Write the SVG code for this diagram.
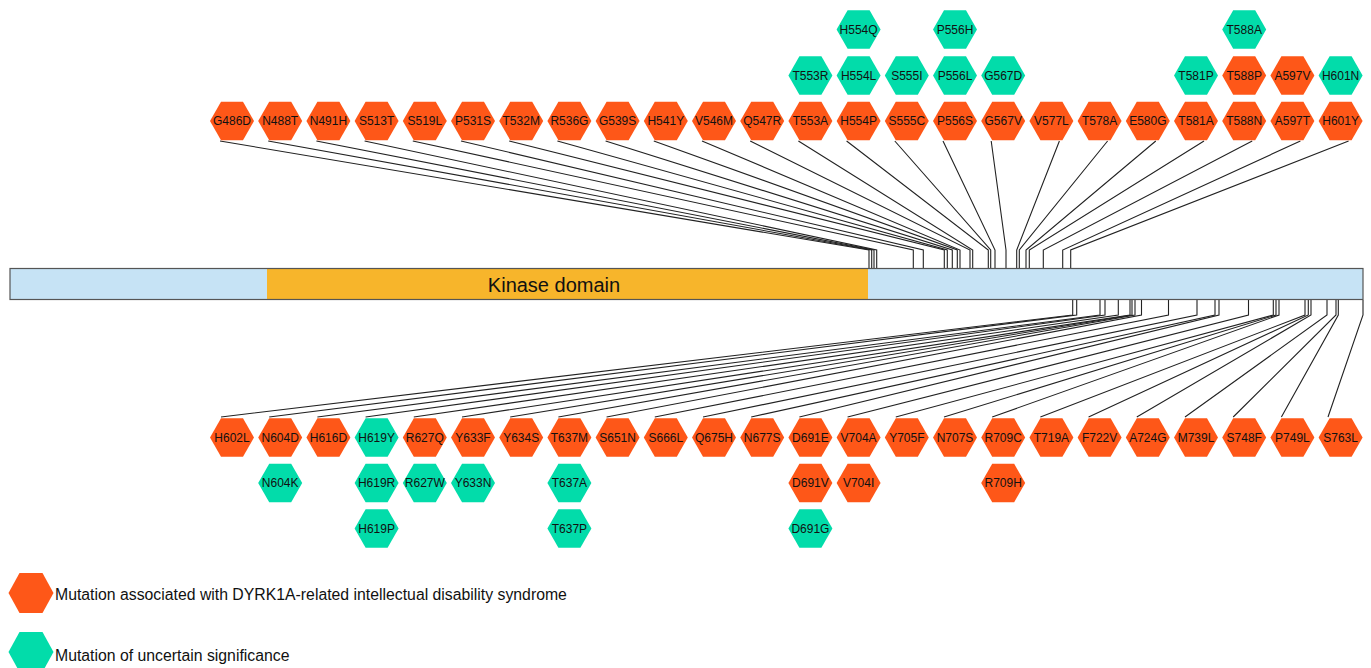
<svg xmlns="http://www.w3.org/2000/svg" xmlns:xlink="http://www.w3.org/1999/xlink" width="1371" height="668" viewBox="0 0 1371 668">
<style>
.o{fill:#FE5718}
.t{fill:#02DCAA}
.lbl{font-family:"Liberation Sans",Arial,sans-serif;font-size:12px;fill:#111;text-anchor:middle}
.leg{font-family:"Liberation Sans",Arial,sans-serif;font-size:15.8px;fill:#111}
.c{fill:none;stroke:#222;stroke-width:1.1}
</style>
<defs>
<polygon id="hex" points="-22,0 -11,-19.2 11,-19.2 22,0 11,19.2 -11,19.2"/>
<polygon id="lhex" points="-22.5,0 -11.5,-20 11.5,-20 22.5,0 11.5,20 -11.5,20"/>
</defs>
<rect width="1371" height="668" fill="#fff"/>
<g id="connectors">
<polyline class="c" points="220,141 869,250 869,268"/>
<polyline class="c" points="268.2,141 871.7,250 871.7,268"/>
<polyline class="c" points="316.4,141 874,250 874,268"/>
<polyline class="c" points="364.6,141 876.7,250 876.7,268"/>
<polyline class="c" points="412.8,141 913.3,250 913.3,268"/>
<polyline class="c" points="461,141 923.3,250 923.3,268"/>
<polyline class="c" points="509.2,141 944.3,250 944.3,268"/>
<polyline class="c" points="557.4,141 947.3,250 947.3,268"/>
<polyline class="c" points="605.6,141 952.3,250 952.3,268"/>
<polyline class="c" points="653.8,141 957.3,250 957.3,268"/>
<polyline class="c" points="702,141 960,250 960,268"/>
<polyline class="c" points="750.2,141 970,250 970,268"/>
<polyline class="c" points="798.4,141 972.7,250 972.7,268"/>
<polyline class="c" points="846.6,141 988.3,250 988.3,268"/>
<polyline class="c" points="894.8,141 990.7,250 990.7,268"/>
<polyline class="c" points="943,141 995,250 995,268"/>
<polyline class="c" points="991.2,141 1006,250 1006,268"/>
<polyline class="c" points="1059.4,141 1016.7,250 1016.7,268"/>
<polyline class="c" points="1107.6,141 1019.3,250 1019.3,268"/>
<polyline class="c" points="1155.8,141 1026,250 1026,268"/>
<polyline class="c" points="1204,141 1029.3,250 1029.3,268"/>
<polyline class="c" points="1252.2,141 1043.3,250 1043.3,268"/>
<polyline class="c" points="1300.4,141 1062.7,250 1062.7,268"/>
<polyline class="c" points="1348.6,141 1070.7,250 1070.7,268"/>
<polyline class="c" points="221,417 1072.7,315 1072.7,300"/>
<polyline class="c" points="269.2,417 1076.7,315 1076.7,300"/>
<polyline class="c" points="317.4,417 1100,315 1100,300"/>
<polyline class="c" points="365.6,417 1105,315 1105,300"/>
<polyline class="c" points="413.8,417 1118.3,315 1118.3,300"/>
<polyline class="c" points="462,417 1130,315 1130,300"/>
<polyline class="c" points="510.2,417 1132,315 1132,300"/>
<polyline class="c" points="558.4,417 1135,315 1135,300"/>
<polyline class="c" points="606.6,417 1141.5,315 1141.5,300"/>
<polyline class="c" points="654.8,417 1168.5,315 1168.5,300"/>
<polyline class="c" points="703,417 1197,315 1197,300"/>
<polyline class="c" points="751.2,417 1215,315 1215,300"/>
<polyline class="c" points="799.4,417 1219,315 1219,300"/>
<polyline class="c" points="847.6,417 1248.5,315 1248.5,300"/>
<polyline class="c" points="895.8,417 1273.3,315 1273.3,300"/>
<polyline class="c" points="944,417 1276,315 1276,300"/>
<polyline class="c" points="992.2,417 1279,315 1279,300"/>
<polyline class="c" points="1040.4,417 1305,315 1305,300"/>
<polyline class="c" points="1088.6,417 1308.3,315 1308.3,300"/>
<polyline class="c" points="1136.8,417 1311,315 1311,300"/>
<polyline class="c" points="1185,417 1327,315 1327,300"/>
<polyline class="c" points="1233.2,417 1336,315 1336,300"/>
<polyline class="c" points="1281.4,417 1338.3,315 1338.3,300"/>
<polyline class="c" points="1328,417 1363,315 1363,300"/>
</g>
<g id="protein">
<rect x="10" y="268.5" width="1353" height="31" fill="#C6E3F5"/>
<rect x="267" y="268.5" width="601" height="31" fill="#F7B52B"/>
<rect x="10" y="268.5" width="1353" height="31" fill="none" stroke="#555" stroke-width="1.2"/>
<text x="554" y="292" font-family="Liberation Sans, Arial, sans-serif" font-size="20" fill="#111" text-anchor="middle">Kinase domain</text>
</g>
<g id="top-nodes">
<g id="G486D" transform="translate(232,121)"><use xlink:href="#hex" class="o"/><text class="lbl" y="4.3">G486D</text></g>
<g id="N488T" transform="translate(280.2,121)"><use xlink:href="#hex" class="o"/><text class="lbl" y="4.3">N488T</text></g>
<g id="N491H" transform="translate(328.4,121)"><use xlink:href="#hex" class="o"/><text class="lbl" y="4.3">N491H</text></g>
<g id="S513T" transform="translate(376.6,121)"><use xlink:href="#hex" class="o"/><text class="lbl" y="4.3">S513T</text></g>
<g id="S519L" transform="translate(424.8,121)"><use xlink:href="#hex" class="o"/><text class="lbl" y="4.3">S519L</text></g>
<g id="P531S" transform="translate(473,121)"><use xlink:href="#hex" class="o"/><text class="lbl" y="4.3">P531S</text></g>
<g id="T532M" transform="translate(521.2,121)"><use xlink:href="#hex" class="o"/><text class="lbl" y="4.3">T532M</text></g>
<g id="R536G" transform="translate(569.4,121)"><use xlink:href="#hex" class="o"/><text class="lbl" y="4.3">R536G</text></g>
<g id="G539S" transform="translate(617.6,121)"><use xlink:href="#hex" class="o"/><text class="lbl" y="4.3">G539S</text></g>
<g id="H541Y" transform="translate(665.8,121)"><use xlink:href="#hex" class="o"/><text class="lbl" y="4.3">H541Y</text></g>
<g id="V546M" transform="translate(714,121)"><use xlink:href="#hex" class="o"/><text class="lbl" y="4.3">V546M</text></g>
<g id="Q547R" transform="translate(762.2,121)"><use xlink:href="#hex" class="o"/><text class="lbl" y="4.3">Q547R</text></g>
<g id="T553A" transform="translate(810.4,121)"><use xlink:href="#hex" class="o"/><text class="lbl" y="4.3">T553A</text></g>
<g id="T553R" transform="translate(810.4,75.5)"><use xlink:href="#hex" class="t"/><text class="lbl" y="4.3">T553R</text></g>
<g id="H554P" transform="translate(858.6,121)"><use xlink:href="#hex" class="o"/><text class="lbl" y="4.3">H554P</text></g>
<g id="H554L" transform="translate(858.6,75.5)"><use xlink:href="#hex" class="t"/><text class="lbl" y="4.3">H554L</text></g>
<g id="H554Q" transform="translate(858.6,29.5)"><use xlink:href="#hex" class="t"/><text class="lbl" y="4.3">H554Q</text></g>
<g id="S555C" transform="translate(906.8,121)"><use xlink:href="#hex" class="o"/><text class="lbl" y="4.3">S555C</text></g>
<g id="S555I" transform="translate(906.8,75.5)"><use xlink:href="#hex" class="t"/><text class="lbl" y="4.3">S555I</text></g>
<g id="P556S" transform="translate(955,121)"><use xlink:href="#hex" class="o"/><text class="lbl" y="4.3">P556S</text></g>
<g id="P556L" transform="translate(955,75.5)"><use xlink:href="#hex" class="t"/><text class="lbl" y="4.3">P556L</text></g>
<g id="P556H" transform="translate(955,29.5)"><use xlink:href="#hex" class="t"/><text class="lbl" y="4.3">P556H</text></g>
<g id="G567V" transform="translate(1003.2,121)"><use xlink:href="#hex" class="o"/><text class="lbl" y="4.3">G567V</text></g>
<g id="G567D" transform="translate(1003.2,75.5)"><use xlink:href="#hex" class="t"/><text class="lbl" y="4.3">G567D</text></g>
<g id="V577L" transform="translate(1051.4,121)"><use xlink:href="#hex" class="o"/><text class="lbl" y="4.3">V577L</text></g>
<g id="T578A" transform="translate(1099.6,121)"><use xlink:href="#hex" class="o"/><text class="lbl" y="4.3">T578A</text></g>
<g id="E580G" transform="translate(1147.8,121)"><use xlink:href="#hex" class="o"/><text class="lbl" y="4.3">E580G</text></g>
<g id="T581A" transform="translate(1196,121)"><use xlink:href="#hex" class="o"/><text class="lbl" y="4.3">T581A</text></g>
<g id="T581P" transform="translate(1196,75.5)"><use xlink:href="#hex" class="t"/><text class="lbl" y="4.3">T581P</text></g>
<g id="T588N" transform="translate(1244.2,121)"><use xlink:href="#hex" class="o"/><text class="lbl" y="4.3">T588N</text></g>
<g id="T588P" transform="translate(1244.2,75.5)"><use xlink:href="#hex" class="o"/><text class="lbl" y="4.3">T588P</text></g>
<g id="T588A" transform="translate(1244.2,29.5)"><use xlink:href="#hex" class="t"/><text class="lbl" y="4.3">T588A</text></g>
<g id="A597T" transform="translate(1292.4,121)"><use xlink:href="#hex" class="o"/><text class="lbl" y="4.3">A597T</text></g>
<g id="A597V" transform="translate(1292.4,75.5)"><use xlink:href="#hex" class="o"/><text class="lbl" y="4.3">A597V</text></g>
<g id="H601Y" transform="translate(1340.6,121)"><use xlink:href="#hex" class="o"/><text class="lbl" y="4.3">H601Y</text></g>
<g id="H601N" transform="translate(1340.6,75.5)"><use xlink:href="#hex" class="t"/><text class="lbl" y="4.3">H601N</text></g>
</g>
<g id="bottom-nodes">
<g id="H602L" transform="translate(232,437.5)"><use xlink:href="#hex" class="o"/><text class="lbl" y="4.3">H602L</text></g>
<g id="N604D" transform="translate(280.2,437.5)"><use xlink:href="#hex" class="o"/><text class="lbl" y="4.3">N604D</text></g>
<g id="N604K" transform="translate(280.2,483)"><use xlink:href="#hex" class="t"/><text class="lbl" y="4.3">N604K</text></g>
<g id="H616D" transform="translate(328.4,437.5)"><use xlink:href="#hex" class="o"/><text class="lbl" y="4.3">H616D</text></g>
<g id="H619Y" transform="translate(376.6,437.5)"><use xlink:href="#hex" class="t"/><text class="lbl" y="4.3">H619Y</text></g>
<g id="H619R" transform="translate(376.6,483)"><use xlink:href="#hex" class="t"/><text class="lbl" y="4.3">H619R</text></g>
<g id="H619P" transform="translate(376.6,528.5)"><use xlink:href="#hex" class="t"/><text class="lbl" y="4.3">H619P</text></g>
<g id="R627Q" transform="translate(424.8,437.5)"><use xlink:href="#hex" class="o"/><text class="lbl" y="4.3">R627Q</text></g>
<g id="R627W" transform="translate(424.8,483)"><use xlink:href="#hex" class="t"/><text class="lbl" y="4.3">R627W</text></g>
<g id="Y633F" transform="translate(473,437.5)"><use xlink:href="#hex" class="o"/><text class="lbl" y="4.3">Y633F</text></g>
<g id="Y633N" transform="translate(473,483)"><use xlink:href="#hex" class="t"/><text class="lbl" y="4.3">Y633N</text></g>
<g id="Y634S" transform="translate(521.2,437.5)"><use xlink:href="#hex" class="o"/><text class="lbl" y="4.3">Y634S</text></g>
<g id="T637M" transform="translate(569.4,437.5)"><use xlink:href="#hex" class="o"/><text class="lbl" y="4.3">T637M</text></g>
<g id="T637A" transform="translate(569.4,483)"><use xlink:href="#hex" class="t"/><text class="lbl" y="4.3">T637A</text></g>
<g id="T637P" transform="translate(569.4,528.5)"><use xlink:href="#hex" class="t"/><text class="lbl" y="4.3">T637P</text></g>
<g id="S651N" transform="translate(617.6,437.5)"><use xlink:href="#hex" class="o"/><text class="lbl" y="4.3">S651N</text></g>
<g id="S666L" transform="translate(665.8,437.5)"><use xlink:href="#hex" class="o"/><text class="lbl" y="4.3">S666L</text></g>
<g id="Q675H" transform="translate(714,437.5)"><use xlink:href="#hex" class="o"/><text class="lbl" y="4.3">Q675H</text></g>
<g id="N677S" transform="translate(762.2,437.5)"><use xlink:href="#hex" class="o"/><text class="lbl" y="4.3">N677S</text></g>
<g id="D691E" transform="translate(810.4,437.5)"><use xlink:href="#hex" class="o"/><text class="lbl" y="4.3">D691E</text></g>
<g id="D691V" transform="translate(810.4,483)"><use xlink:href="#hex" class="o"/><text class="lbl" y="4.3">D691V</text></g>
<g id="D691G" transform="translate(810.4,528.5)"><use xlink:href="#hex" class="t"/><text class="lbl" y="4.3">D691G</text></g>
<g id="V704A" transform="translate(858.6,437.5)"><use xlink:href="#hex" class="o"/><text class="lbl" y="4.3">V704A</text></g>
<g id="V704I" transform="translate(858.6,483)"><use xlink:href="#hex" class="o"/><text class="lbl" y="4.3">V704I</text></g>
<g id="Y705F" transform="translate(906.8,437.5)"><use xlink:href="#hex" class="o"/><text class="lbl" y="4.3">Y705F</text></g>
<g id="N707S" transform="translate(955,437.5)"><use xlink:href="#hex" class="o"/><text class="lbl" y="4.3">N707S</text></g>
<g id="R709C" transform="translate(1003.2,437.5)"><use xlink:href="#hex" class="o"/><text class="lbl" y="4.3">R709C</text></g>
<g id="R709H" transform="translate(1003.2,483)"><use xlink:href="#hex" class="o"/><text class="lbl" y="4.3">R709H</text></g>
<g id="T719A" transform="translate(1051.4,437.5)"><use xlink:href="#hex" class="o"/><text class="lbl" y="4.3">T719A</text></g>
<g id="F722V" transform="translate(1099.6,437.5)"><use xlink:href="#hex" class="o"/><text class="lbl" y="4.3">F722V</text></g>
<g id="A724G" transform="translate(1147.8,437.5)"><use xlink:href="#hex" class="o"/><text class="lbl" y="4.3">A724G</text></g>
<g id="M739L" transform="translate(1196,437.5)"><use xlink:href="#hex" class="o"/><text class="lbl" y="4.3">M739L</text></g>
<g id="S748F" transform="translate(1244.2,437.5)"><use xlink:href="#hex" class="o"/><text class="lbl" y="4.3">S748F</text></g>
<g id="P749L" transform="translate(1292.4,437.5)"><use xlink:href="#hex" class="o"/><text class="lbl" y="4.3">P749L</text></g>
<g id="S763L" transform="translate(1340.6,437.5)"><use xlink:href="#hex" class="o"/><text class="lbl" y="4.3">S763L</text></g>
</g>
<g id="legend">
<g id="legend-pathogenic"><use xlink:href="#lhex" class="o" x="31" y="593"/><text class="leg" x="55" y="599.5">Mutation associated with DYRK1A-related intellectual disability syndrome</text></g>
<g id="legend-uncertain"><use xlink:href="#lhex" class="t" x="31" y="652"/><text class="leg" x="55" y="661">Mutation of uncertain significance</text></g>
</g>
</svg>
